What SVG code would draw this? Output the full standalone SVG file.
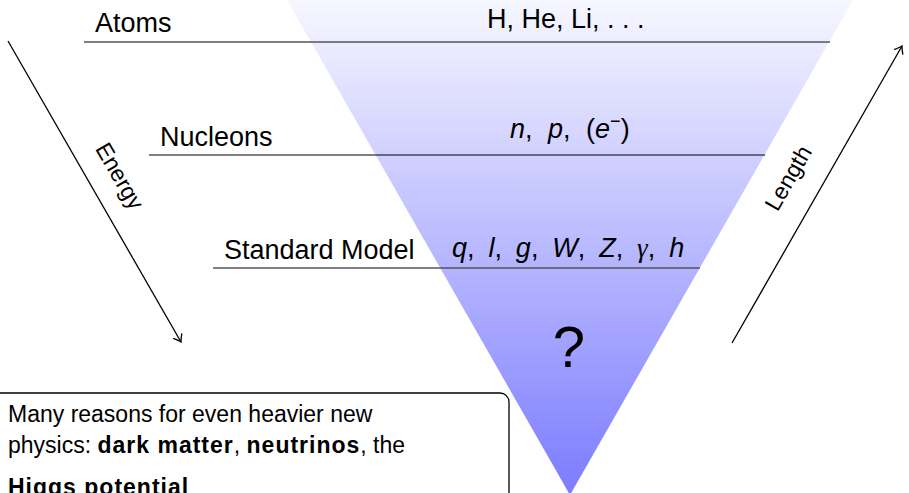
<svg xmlns="http://www.w3.org/2000/svg" width="909" height="493" viewBox="0 0 909 493">
<style>
text{font-family:"Liberation Sans",Arial,sans-serif;fill:#000;}
.lbl{font-size:27px;}
.i{font-style:italic;}
.b{font-weight:bold;letter-spacing:1px;}
.lvl{stroke:#555;stroke-width:1.4;fill:none;}
.lvlk{stroke:#000;stroke-width:1.2;fill:none;}
.arr{stroke:#000;stroke-width:1.3;fill:none;marker-end:url(#ah);}
.box{font-size:23px;}
</style>
<defs>
<linearGradient id="g" x1="0" y1="0" x2="0" y2="493" gradientUnits="userSpaceOnUse">
<stop offset="0" stop-color="#f7f7ff"/>
<stop offset="1" stop-color="#7c7cff"/>
</linearGradient>
<marker id="ah" viewBox="-8 -6 10 12" markerWidth="10" markerHeight="12" refX="0" refY="0" orient="auto" markerUnits="userSpaceOnUse">
<path d="M-7,-5 Q-2,-1 0,0 Q-2,1 -7,5" fill="none" stroke="#000" stroke-width="1.3"/>
</marker>
</defs>
<g id="funnel">
<polygon points="287,0 853,0 570,495" fill="url(#g)"/>
</g>
<g id="connectors">
<line class="lvl" x1="84" y1="42" x2="830" y2="42"/>
<line class="lvlk" x1="149" y1="155" x2="765" y2="155"/>
<line class="lvl" x1="213" y1="268" x2="700" y2="268"/>
<line class="arr" x1="8" y1="41" x2="181" y2="342"/>
<line class="arr" x1="732" y1="343" x2="902" y2="46"/>
</g>
<g id="atoms">
<text class="lbl" x="95" y="32">Atoms</text>
<text class="lbl" x="487" y="28">H, He, Li, . . .</text>
</g>
<g id="nucleons">
<text class="lbl" x="160" y="146" font-size="26">Nucleons</text>
<text class="lbl" x="510" y="138" word-spacing="8"><tspan class="i">n</tspan>, <tspan class="i">p</tspan>, (<tspan class="i">e</tspan><tspan font-size="18" dy="-11">−</tspan><tspan dy="11">)</tspan></text>
</g>
<g id="sm">
<text class="lbl" x="224" y="259">Standard Model</text>
<text class="lbl" x="452" y="257" word-spacing="6.4"><tspan class="i">q</tspan>, <tspan class="i">l</tspan>, <tspan class="i">g</tspan>, <tspan class="i">W</tspan>, <tspan class="i">Z</tspan>, <tspan class="i" font-family="'Liberation Serif',serif">γ</tspan>, <tspan class="i">h</tspan></text>
</g>
<g id="question">
<text x="569" y="367" font-size="58" text-anchor="middle">?</text>
</g>
<g id="energy">
<text transform="translate(113,180) rotate(60)" text-anchor="middle" font-size="23">Energy</text>
</g>
<g id="length">
<text transform="translate(795,182) rotate(-60)" text-anchor="middle" font-size="23">Length</text>
</g>
<g id="note">
<rect x="-10" y="393" width="519" height="130" rx="9" ry="9" fill="#fff" stroke="#000" stroke-width="1.3"/>
<text class="box" x="8" y="422">Many reasons for even heavier new</text>
<text class="box" x="8" y="453">physics: <tspan class="b">dark matter</tspan>, <tspan class="b">neutrinos</tspan>, the</text>
<text class="box b" x="8" y="495">Higgs potential</text>
</g>
</svg>
